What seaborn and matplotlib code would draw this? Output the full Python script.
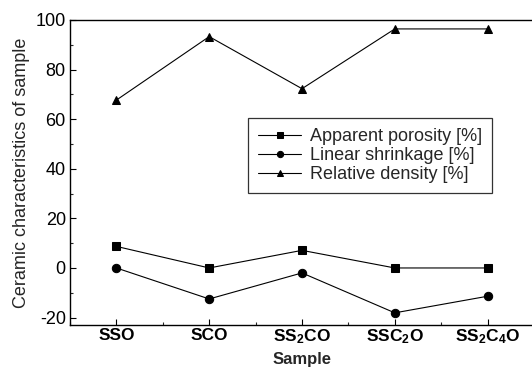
import numpy as np
import pandas as pd
import matplotlib
matplotlib.use("Agg")
import matplotlib.pyplot as plt
import seaborn as sns
from matplotlib.ticker import MultipleLocator

samples = ["SSO", "SCO", "SS$_2$CO", "SSC$_2$O", "SS$_2$C$_4$O"]
apparent_porosity = [8.7, 0.0, 7.1, 0.0, 0.0]
linear_shrinkage = [0.0, -12.5, -2.0, -18.1, -11.4]
relative_density = [67.7, 93.3, 72.3, 96.4, 96.4]
series_names = ["Apparent porosity [%]", "Linear shrinkage [%]", "Relative density [%]"]

sns.set_theme(style="ticks")
plt.rcParams["font.family"] = ["Liberation Sans", "DejaVu Sans"]
plt.rcParams["mathtext.fontset"] = "custom"
plt.rcParams["mathtext.rm"] = "Liberation Sans:bold"
plt.rcParams["mathtext.bf"] = "Liberation Sans:bold"
plt.rcParams["mathtext.default"] = "bf"
plt.rcParams["axes.unicode_minus"] = False

pos = np.arange(len(samples))
df = pd.DataFrame({
    "pos": np.tile(pos, 3),
    "value": apparent_porosity + linear_shrinkage + relative_density,
    "series": np.repeat(series_names, len(samples)),
})

fig = plt.figure(figsize=(5.32, 3.68), dpi=100)
ax = fig.add_axes([70/532, 1 - 325/368, 464/532, 305/368])
sns.lineplot(data=df, x="pos", y="value", hue="series", style="series",
             markers={series_names[0]: "s", series_names[1]: "o", series_names[2]: "^"},
             dashes=False, palette=["black"] * 3, linewidth=0.8, markersize=6,
             markeredgecolor="black", ax=ax)

ax.set_xlim(-0.5, 4.5)
ax.set_ylim(-23, 100)
ax.set_xticks(pos)
ax.set_xticklabels(samples, fontweight="bold", fontsize=12.5)
ax.xaxis.set_minor_locator(MultipleLocator(0.5))
ax.yaxis.set_major_locator(MultipleLocator(20))
ax.yaxis.set_minor_locator(MultipleLocator(10))
ax.tick_params(axis="both", which="major", direction="in", length=4, width=0.8, labelsize=13, colors="black")
ax.tick_params(axis="both", which="minor", direction="in", length=2.5, width=0.8)
ax.tick_params(axis="x", which="major", labelsize=12.5, pad=2)
ax.tick_params(axis="y", which="major", pad=3)
for sp in ax.spines.values():
    sp.set_linewidth(1.0)
    sp.set_color("black")
    sp.set_visible(True)

ax.set_ylabel("Ceramic characteristics of sample", fontsize=13, labelpad=4)
ax.set_xlabel("Sample", fontsize=12, fontweight="bold", labelpad=4)

leg = ax.legend(loc="upper left", bbox_to_anchor=(0.384, 0.679), borderaxespad=0,
                fontsize=13, frameon=True, fancybox=False, edgecolor="black",
                handlelength=2.4, handletextpad=0.45, labelspacing=0.12, borderpad=0.55,
                markerscale=0.75, title=None)
leg.get_frame().set_linewidth(0.9)

fig.savefig("out.png", dpi=100)
